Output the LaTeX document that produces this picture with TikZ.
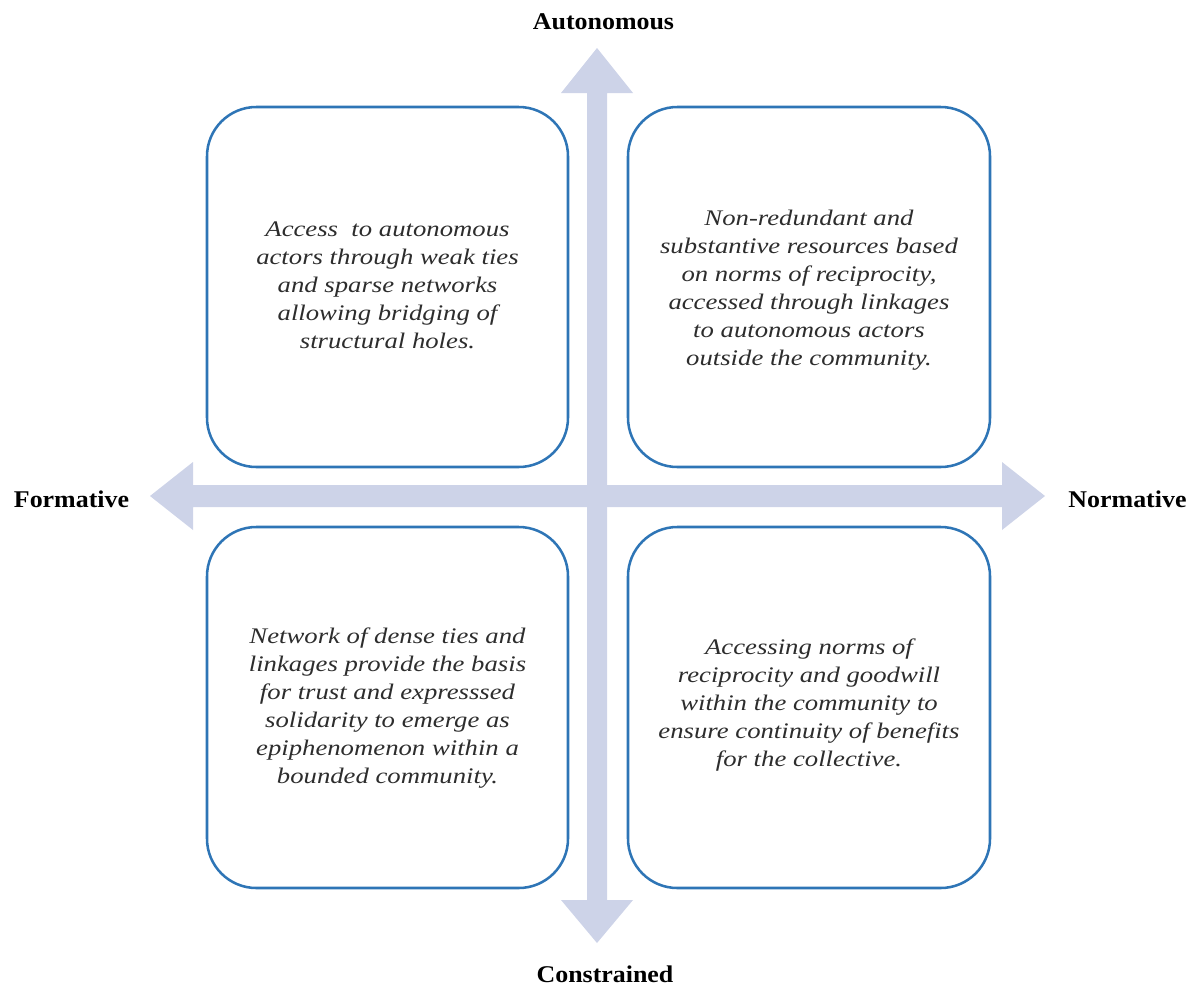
\documentclass[tikz,border=0pt]{standalone}
\usepackage{fontspec}
\setmainfont{Liberation Serif}
\newfontfamily\boxfont[FakeStretch=1.2]{Liberation Serif}
\newfontfamily\labfont[FakeStretch=1.08]{Liberation Serif}
\definecolor{axisfill}{RGB}{205,211,232}
\definecolor{boxline}{RGB}{46,117,182}
\definecolor{boxtext}{RGB}{45,45,45}
\tikzset{
  quad/.style={draw=boxline, line width=1.9pt, rounded corners=37pt, fill=white},
  quadtext/.style={text=boxtext, align=center, font=\boxfont\itshape\fontsize{16.7pt}{21pt}\selectfont},
  axislabel/.style={anchor=base, text=black, font=\labfont\bfseries\fontsize{18pt}{21pt}\selectfont},
  axisshape/.style={fill=axisfill, draw=none}
}
\begin{document}
\begin{tikzpicture}[x=0.75pt, y=-0.75pt]
\useasboundingbox (0,0) rectangle (1195,996);
% axes
\fill[axisshape] (597,48) -- (633,93) -- (607,93) -- (607,900) -- (633,900) -- (597,943)
  -- (561,900) -- (587,900) -- (587,93) -- (561,93) -- cycle;
\fill[axisshape] (150,496) -- (193,462) -- (193,485) -- (1002,485) -- (1002,462) -- (1045,496)
  -- (1002,530) -- (1002,507) -- (193,507) -- (193,530) -- cycle;
% boxes
\draw[quad] (207,107) rectangle (568,467);
\draw[quad] (628,107) rectangle (990,467);
\draw[quad] (207,527) rectangle (568,888);
\draw[quad] (628,527) rectangle (990,888);
\node[quadtext] (tl) at (387.5,285) {Access\ \ to autonomous\\actors through weak ties\\and sparse networks\\allowing bridging of\\structural holes.};
\node[quadtext] (tr) at (809,290) {Non-redundant and\\substantive resources based\\on norms of reciprocity,\\accessed through linkages\\to autonomous actors\\outside the community.};
\node[quadtext] (bl) at (387.5,708) {Network of dense ties and\\linkages provide the basis\\for trust and expresssed\\solidarity to emerge as\\epiphenomenon within a\\bounded community.};
\node[quadtext] (br) at (809,705) {Accessing norms of\\reciprocity and goodwill\\within the community to\\ensure continuity of benefits\\for the collective.};
% labels
\node[axislabel] (auto) at (603.5,29) {Autonomous};
\node[axislabel] (cons) at (605,982) {Constrained};
\node[axislabel] (form) at (71.5,507) {Formative};
\node[axislabel] (norm) at (1127.5,507) {Normative};
\end{tikzpicture}
\end{document}
